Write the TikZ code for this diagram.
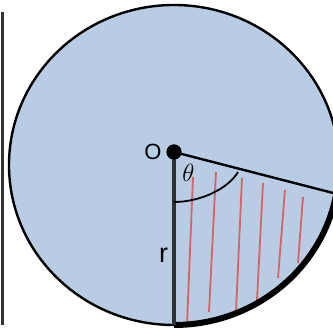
\documentclass[tikz,border=0pt]{standalone}
\usepackage{fontspec}
\setmainfont{Liberation Sans}
\usetikzlibrary{positioning}
\definecolor{diskfill}{RGB}{184,204,228}
\definecolor{hatchred}{RGB}{214,100,100}
\definecolor{darkline}{RGB}{50,50,50}
\tikzset{
  disk/.style     = {draw=black, line width=2.4pt, fill=diskfill},
  rimarc/.style   = {draw=black, line width=6pt},
  radline/.style  = {draw=darkline, line width=3.4pt},
  chordline/.style= {draw=black, line width=2.4pt},
  anglearc/.style = {draw=black, line width=1.8pt},
  hatch/.style    = {draw=hatchred, line width=1.8pt},
  centerdot/.style= {circle, fill=black, inner sep=0pt, minimum size=15pt},
  lbl/.style      = {inner sep=0pt, font=\fontsize{22}{24}\selectfont}
}
\begin{document}
\begin{tikzpicture}[x=1pt,y=1pt]
  \useasboundingbox (0,0) rectangle (333,329);
  \clip (0,0) rectangle (333,329);
  % side rule
  \coordinate (ruletop) at (2.5,317);
  \coordinate (rulebot) at (2.5,4);
  \draw[darkline, line width=2.4pt] (ruletop) -- (rulebot);
  % the disk
  \coordinate (C) at (174,164);
  \fill[disk] (C) ellipse[x radius=165, y radius=160];
  \node[centerdot] (O) at (174,177) {};
  \coordinate (B) at (174,4);
  \coordinate (A) at (336.3,135.2);
  % hatching of the sector
  \foreach \xa/\ya/\xb/\yb in {193/152/187/4, 216/157/209/17, 242/151/236/17,
                               263/146/257/29, 285/139/278/51, 303/132/298/66}
    \draw[hatch] (\xa,\ya) -- (\xb,\yb);
  % sector edges
  \draw[rimarc] (B) arc[start angle=-90, end angle=-10.4, x radius=165, y radius=160];
  \draw[radline] (O.center) -- (B);
  \draw[chordline] (O.center) -- (A);
  \coordinate (t1) at (174,127);
  \coordinate (t2) at (238,157);
  \draw[anglearc] (t1) .. controls (200,127) and (228,140) .. (t2);
  \node[centerdot] at (O) {};
  % labels
  \node[lbl] (Olbl) at (153,177) {O};
  \node[lbl, font=\fontsize{27}{30}\selectfont] (rlbl) at (163.5,74) {r};
  \node[lbl, font=\fontsize{26}{28}\selectfont] (thlbl) at (188.5,156.5) {$\theta$};
\end{tikzpicture}
\end{document}
